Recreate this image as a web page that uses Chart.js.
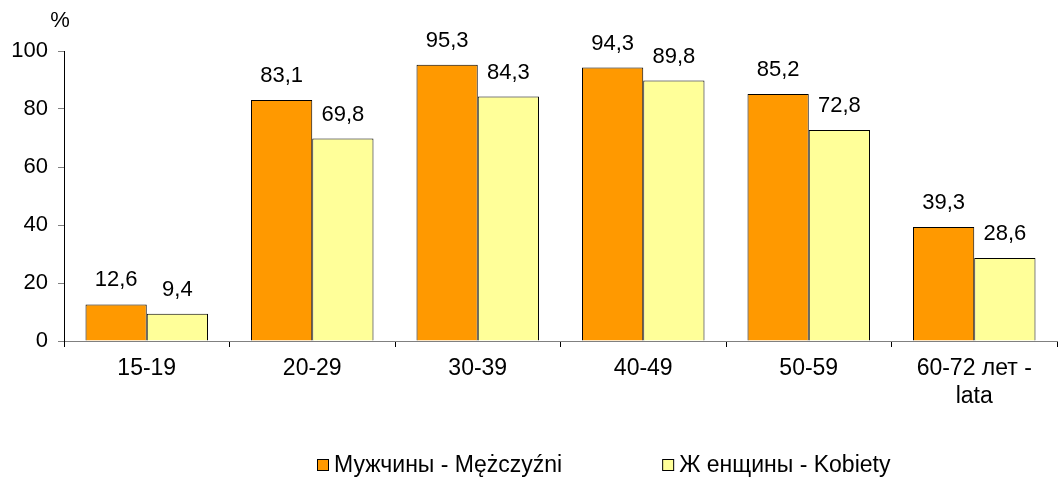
<!DOCTYPE html>
<html>
<head>
<meta charset="utf-8">
<script src="https://cdn.jsdelivr.net/npm/chart.js@4"></script>
<style>
  html, body { margin: 0; padding: 0; background: #fff; }
  #wrap { width: 1059px; height: 477px; }
</style>
</head>
<body>
<div id="wrap"><canvas id="chart"></canvas></div>
<script>
const ageGroups = ['15-19', '20-29', '30-39', '40-49', '50-59', ['60-72 лет -', 'lata']];
const menValues = [12.6, 83.1, 95.3, 94.3, 85.2, 39.3];
const womenValues = [9.4, 69.8, 84.3, 89.8, 72.8, 28.6];
const seriesNames = ['Мужчины - Mężczyźni', 'Ж енщины - Kobiety'];
const yTicks = [0, 20, 40, 60, 80, 100];

const FONT = 'Liberation Sans, Arial, sans-serif';

// draws the value above each bar, with a comma as decimal mark
const valueLabels = {
    id: 'valueLabels',
    afterDatasetsDraw(chart) {
        const ctx = chart.ctx;
        ctx.save();
        ctx.font = '22px ' + FONT;
        ctx.fillStyle = '#000';
        ctx.textAlign = 'center';
        ctx.textBaseline = 'alphabetic';
        chart.data.datasets.forEach((ds, i) => {
            chart.getDatasetMeta(i).data.forEach((bar, j) => {
                const txt = ds.data[j].toFixed(1).replace('.', ',');
                ctx.fillText(txt, bar.x, bar.y - 18);
            });
        });
        ctx.restore();
    }
};

// "%" unit over the y axis and the legend at the bottom (wide gap between items, like Excel)
const extras = {
    id: 'extras',
    afterDraw(chart) {
        const ctx = chart.ctx;
        ctx.save();
        ctx.font = '22px ' + FONT;
        ctx.fillStyle = '#000';
        ctx.textAlign = 'center';
        ctx.textBaseline = 'middle';
        ctx.fillText('%', 60, 21);

        ctx.font = '23px ' + FONT;
        ctx.textAlign = 'left';
        const box = 11, boxGap = 6, itemGap = 100, y = 465;
        const items = chart.data.datasets.map(ds => ({
            text: ds.label,
            color: ds.backgroundColor,
            w: box + boxGap + ctx.measureText(ds.label).width
        }));
        const total = items.reduce((s, it) => s + it.w, 0) + itemGap * (items.length - 1);
        let x = Math.round(604 - total / 2);
        items.forEach(it => {
            ctx.fillStyle = it.color;
            ctx.fillRect(x + 0.5, y - 6 + 0.5, box, box);
            ctx.strokeStyle = '#000';
            ctx.lineWidth = 1;
            ctx.strokeRect(x + 0.5, y - 6 + 0.5, box, box);
            ctx.fillStyle = '#000';
            ctx.fillText(it.text, x + box + boxGap, y + 1);
            x += it.w + itemGap;
        });
        ctx.restore();
    }
};

new Chart(document.getElementById('chart'), {
    type: 'bar',
    data: {
        labels: ageGroups,
        datasets: [{
            label: seriesNames[0],
            data: menValues,
            backgroundColor: '#FF9900',
            borderColor: '#000',
            borderWidth: 1
        }, {
            label: seriesNames[1],
            data: womenValues,
            backgroundColor: '#FFFF99',
            borderColor: '#000',
            borderWidth: 1
        }]
    },
    options: {
        responsive: true,
        maintainAspectRatio: false,
        animation: false,
        layout: { padding: { top: 51, right: 2, left: 0, bottom: 46 } },
        datasets: {
            bar: { categoryPercentage: 0.74, barPercentage: 1.0 }
        },
        scales: {
            x: {
                grid: { drawOnChartArea: false, drawTicks: true, tickLength: 6, color: '#000' },
                border: { color: '#808080', width: 1 },
                ticks: { color: '#000', font: { family: FONT, size: 23 }, padding: 8, maxRotation: 0 },
                afterFit(scale) { scale.height = 90; }
            },
            y: {
                min: 0,
                max: 100,
                afterBuildTicks(scale) { scale.ticks = yTicks.map(v => ({ value: v })); },
                grid: { drawOnChartArea: false, drawTicks: true, tickLength: 6, color: '#808080' },
                border: { color: '#000', width: 1 },
                ticks: { color: '#000', font: { family: FONT, size: 22 }, padding: 10 },
                afterFit(scale) { scale.width = 64; }
            }
        },
        plugins: {
            legend: { display: false },
            tooltip: { enabled: false }
        }
    },
    plugins: [valueLabels, extras]
});
</script>
</body>
</html>
